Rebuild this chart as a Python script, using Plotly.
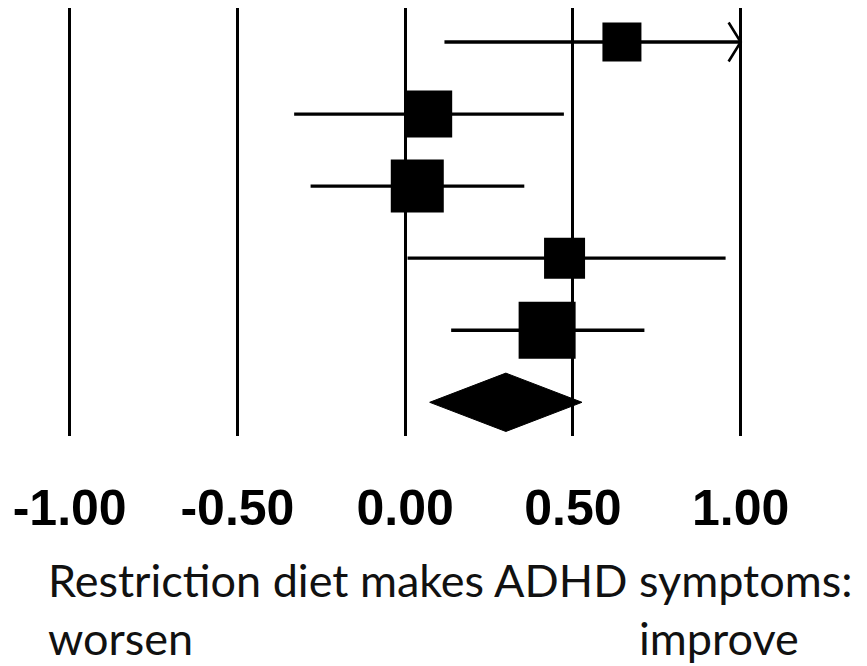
import plotly.graph_objects as go

# ---- data (standardised mean differences) ----
rows = [0, 1, 2, 3, 4]
est = [0.646, 0.070, 0.036, 0.475, 0.423]
lower = [0.117, -0.331, -0.282, 0.007, 0.137]
upper = [1.18, 0.473, 0.355, 0.955, 0.713]
weight_px = [39, 47, 53, 41, 57]  # square size

pooled_row = 5
pooled_est = 0.300
pooled_lower = 0.073
pooled_upper = 0.527

tick_vals = [-1.0, -0.5, 0.0, 0.5, 1.0]
tick_text = ["-1.00", "-0.50", "0.00", "0.50", "1.00"]
axis_max = 1.0

# ---- styling ----
LW = 3.3
ARROW_DX = 0.036
ARROW_DY = 0.27
DIAMOND_H = 0.405
TXT_FONT = "Lato"
TXT_SIZE = 45

fig = go.Figure()

# confidence interval lines (clipped at axis max)
cx, cy = [], []
for r, lo, hi in zip(rows, lower, upper):
    cx += [lo, min(hi, axis_max), None]
    cy += [r, r, None]
fig.add_trace(go.Scatter(x=cx, y=cy, mode="lines",
                         line=dict(color="black", width=LW),
                         hoverinfo="skip", showlegend=False))

# arrows for clipped intervals
ax, ay = [], []
for r, hi in zip(rows, upper):
    if hi > axis_max:
        ax += [axis_max - ARROW_DX, axis_max, axis_max - ARROW_DX, None]
        ay += [r - ARROW_DY, r, r + ARROW_DY, None]
fig.add_trace(go.Scatter(x=ax, y=ay, mode="lines",
                         line=dict(color="black", width=2.6),
                         hoverinfo="skip", showlegend=False))

# point estimates
fig.add_trace(go.Scatter(x=est, y=rows, mode="markers",
                         marker=dict(symbol="square", size=weight_px, opacity=1,
                                     color="black", line=dict(width=0)),
                         showlegend=False))

# pooled diamond
fig.add_trace(go.Scatter(
    x=[pooled_lower, pooled_est, pooled_upper, pooled_est, pooled_lower],
    y=[pooled_row, pooled_row - DIAMOND_H, pooled_row, pooled_row + DIAMOND_H, pooled_row],
    mode="lines", fill="toself", fillcolor="black",
    line=dict(color="black", width=1), hoverinfo="skip", showlegend=False))

# page body margin offset (figure drawn at 8,8 in the window)
OFF = 8
W, H = 867 - OFF, 666 - OFF
top_px, bot_px = 7 - OFF, 436 - OFF
top_px = max(top_px, 0)
row0_px, row_step = 42.0 - OFF, 72.06
x0_px, unit_px = 405.2 - OFF, 335.5

fig.update_layout(
    width=W, height=H,
    margin=dict(l=0, r=0, t=top_px, b=H - bot_px, pad=0),
    paper_bgcolor="white", plot_bgcolor="white",
    xaxis=dict(range=[(0 - x0_px) / unit_px, (W - x0_px) / unit_px],
               tickvals=tick_vals, ticktext=tick_text,
               showgrid=True, gridcolor="black", gridwidth=LW,
               zeroline=False, showline=False,
               ticks="", ticklabelstandoff=38,
               tickfont=dict(family="Liberation Sans", size=50, color="black",
                             weight="bold")),
    yaxis=dict(range=[(bot_px - row0_px) / row_step,
                      (top_px - row0_px) / row_step],
               showgrid=False, zeroline=False, showticklabels=False,
               showline=False),
    font=dict(family=TXT_FONT, color="#111111"),
)

def py(p):
    return (bot_px - (p - OFF)) / (bot_px - top_px)

def px(p):
    return (p - OFF) / W

fig.add_annotation(text="Restriction diet makes ADHD symptoms:", xref="paper", yref="paper",
                   x=px(46), y=py(580), xanchor="left", yanchor="middle",
                   showarrow=False, font=dict(size=TXT_SIZE, family=TXT_FONT, color="#111111"))
fig.add_annotation(text="worsen", xref="paper", yref="paper",
                   x=px(46), y=py(638), xanchor="left", yanchor="middle",
                   showarrow=False, font=dict(size=TXT_SIZE, family=TXT_FONT, color="#111111"))
fig.add_annotation(text="improve", xref="paper", yref="paper",
                   x=px(637), y=py(638), xanchor="left", yanchor="middle",
                   showarrow=False, font=dict(size=TXT_SIZE, family=TXT_FONT, color="#111111"))

fig.write_html("out.html")
